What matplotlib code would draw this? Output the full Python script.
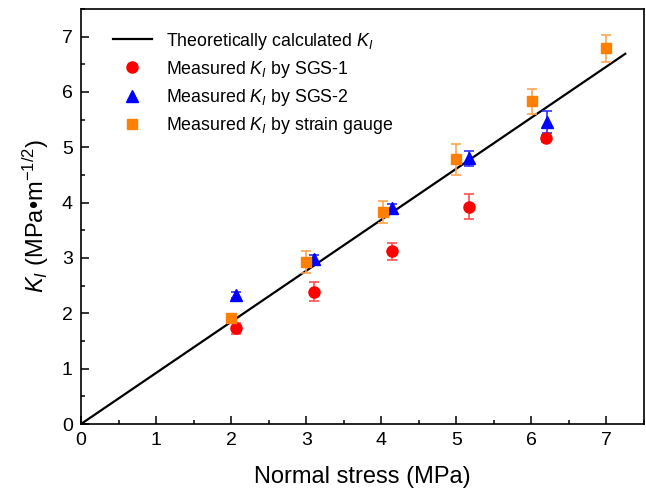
import matplotlib
matplotlib.use("Agg")
import matplotlib.pyplot as plt
import numpy as np

plt.rcParams['font.family'] = ['Liberation Sans', 'DejaVu Sans']
plt.rcParams['mathtext.fontset'] = 'custom'
plt.rcParams['mathtext.rm'] = 'Liberation Sans'
plt.rcParams['mathtext.it'] = 'Liberation Sans:italic'

# theoretical line
theory_x = [0, 7.25]
theory_y = [0, 6.69]

# SGS-1
sgs1_x = [2.07, 3.10, 4.14, 5.17, 6.20]
sgs1_y = [1.73, 2.39, 3.12, 3.93, 5.16]
sgs1_err = [0.10, 0.17, 0.15, 0.23, 0.07]

# SGS-2
sgs2_x = [2.07, 3.10, 4.14, 5.17, 6.21]
sgs2_y = [2.33, 2.98, 3.90, 4.80, 5.46]
sgs2_err = [0.05, 0.07, 0.08, 0.13, 0.20]

# strain gauge
sg_x = [2.0, 3.0, 4.02, 5.0, 6.01, 7.0]
sg_y = [1.91, 2.93, 3.83, 4.78, 5.83, 6.79]
sg_err = [0.05, 0.20, 0.20, 0.28, 0.22, 0.24]

fig = plt.figure(figsize=(6.46, 4.99), dpi=100)
ax = fig.add_axes([0.1254, 0.1503, 0.8715, 0.8317])

ln, = ax.plot(theory_x, theory_y, color='black', lw=1.6, zorder=2)
e1 = ax.errorbar(sgs1_x, sgs1_y, yerr=sgs1_err, fmt='o', color='#FF0000', ecolor='#FF5050',
                 ms=8, capsize=3.6, elinewidth=1.2, capthick=1.2, zorder=3)
e2 = ax.errorbar(sgs2_x, sgs2_y, yerr=sgs2_err, fmt='^', color='#0000FF', ecolor='#3030FF',
                 ms=8.5, capsize=3.6, elinewidth=1.2, capthick=1.2, zorder=3)
e3 = ax.errorbar(sg_x, sg_y, yerr=sg_err, fmt='s', color='#FF8000', ecolor='#FFA550',
                 ms=7.5, capsize=3.6, elinewidth=1.2, capthick=1.2, zorder=3)

ax.set_xlim(0, 7.5)
ax.set_ylim(0, 7.5)
ax.set_xticks(np.arange(0, 8, 1))
ax.set_yticks(np.arange(0, 8, 1))
ax.set_xticks(np.arange(0, 7.6, 0.5), minor=True)
ax.set_yticks(np.arange(0, 7.6, 0.5), minor=True)
ax.tick_params(which='major', direction='in', length=6, width=1.1, labelsize=14, pad=6)
ax.tick_params(which='minor', direction='in', length=3, width=1.1)
for s in ax.spines.values():
    s.set_linewidth(1.2)

ax.set_xlabel('Normal stress (MPa)', fontsize=17, labelpad=12)
ax.set_ylabel(r'$K_I$ (MPa•m$^{-1/2}$)', fontsize=17, labelpad=8)

handles = [ln, e1[0], e2[0], e3[0]]
labels = [r'Theoretically calculated $K_I$', r'Measured $K_I$ by SGS-1',
          r'Measured $K_I$ by SGS-2', r'Measured $K_I$ by strain gauge']
ax.legend(handles, labels, loc='upper left', frameon=False, fontsize=12.8, handlelength=2.2,
          borderaxespad=0.3, labelspacing=0.4, bbox_to_anchor=(0.034, 0.978))

fig.savefig('out.png', dpi=100)
